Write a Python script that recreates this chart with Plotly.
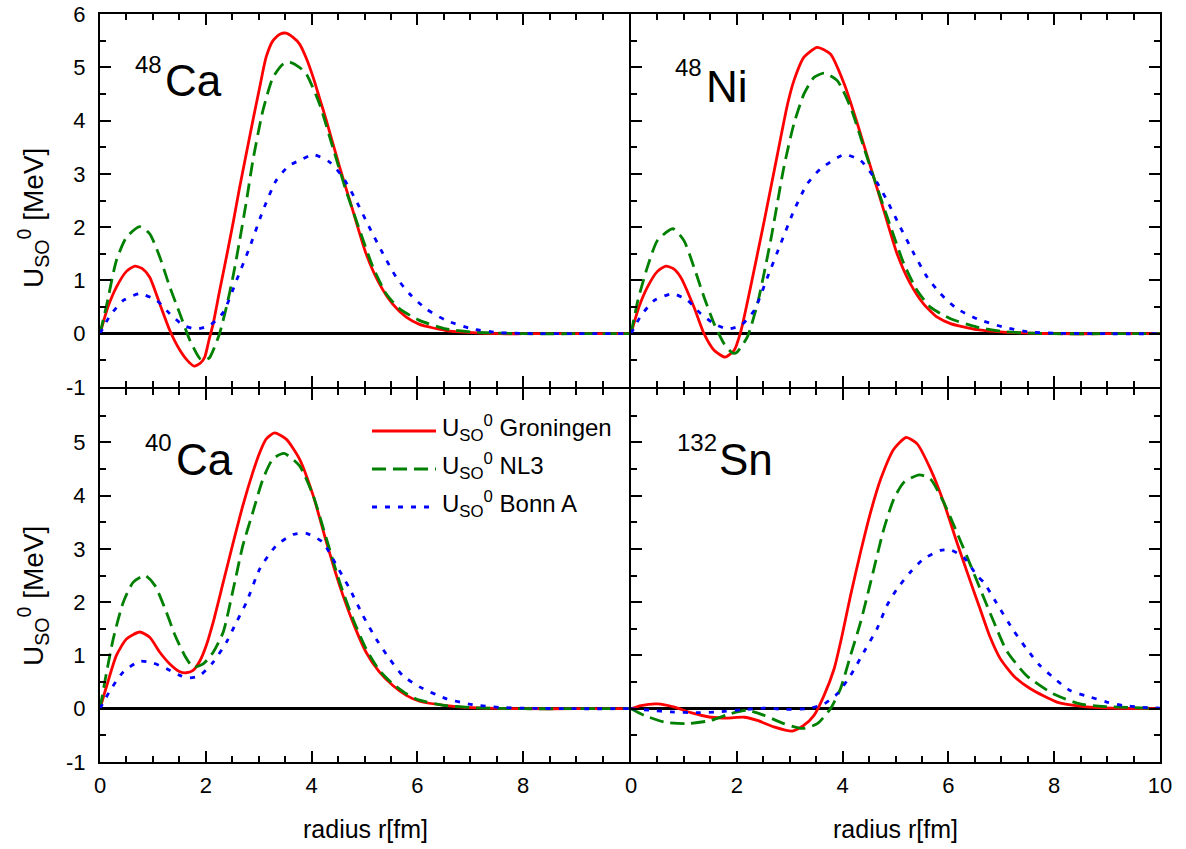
import plotly.graph_objects as go
from plotly.subplots import make_subplots

# ---------------- data ----------------
# 48Ca
ca48_gro_r = [0, 0.15, 0.31, 0.5, 0.66, 0.8, 0.94, 1.13, 1.32, 1.51, 1.65, 1.78, 1.9, 1.98, 2.06, 2.14, 2.26, 2.39, 2.52, 2.64, 2.77, 2.89, 3.02, 3.14, 3.27, 3.4, 3.52, 3.65, 3.77, 3.9, 4.03, 4.15, 4.28, 4.53, 4.78, 5.03, 5.28, 5.53, 5.79, 6.04, 6.54, 7.04, 7.55, 8.0, 9.0, 10.0]
ca48_gro_u = [0, 0.5, 0.875, 1.17, 1.27, 1.22, 1.06, 0.56, 0.06, -0.31, -0.5, -0.61, -0.55, -0.44, -0.12, 0.19, 0.8, 1.44, 2.1, 2.75, 3.4, 4.0, 4.63, 5.19, 5.5, 5.62, 5.64, 5.56, 5.44, 5.17, 4.81, 4.42, 4.0, 3.125, 2.31, 1.5, 0.94, 0.56, 0.31, 0.175, 0.06, 0.02, 0.0, 0, 0, 0]
ca48_nl3_r = [0, 0.13, 0.31, 0.5, 0.75, 0.94, 1.13, 1.32, 1.51, 1.70, 1.89, 1.98, 2.07, 2.14, 2.26, 2.39, 2.52, 2.64, 2.77, 2.89, 3.08, 3.27, 3.46, 3.58, 3.77, 3.9, 4.15, 4.4, 4.65, 4.91, 5.16, 5.41, 5.66, 6.04, 6.54, 7.04, 7.55, 8.0, 9.0, 10.0]
ca48_nl3_u = [0, 0.56, 1.375, 1.81, 2.01, 1.875, 1.44, 0.875, 0.375, -0.125, -0.47, -0.5, -0.45, -0.31, 0, 0.5, 1.1, 1.75, 2.5, 3.25, 4.19, 4.81, 5.06, 5.1, 5.0, 4.875, 4.31, 3.5, 2.69, 1.94, 1.25, 0.75, 0.47, 0.25, 0.09, 0.03, 0.01, 0, 0, 0]
ca48_bonn_r = [0, 0.19, 0.44, 0.75, 1.07, 1.32, 1.57, 1.82, 2.08, 2.33, 2.58, 2.83, 3.08, 3.33, 3.58, 3.77, 4.03, 4.34, 4.59, 4.84, 5.09, 5.35, 5.6, 5.85, 6.16, 6.54, 7.04, 7.55, 8.0, 9.0, 10.0]
ca48_bonn_u = [0, 0.34, 0.625, 0.75, 0.625, 0.375, 0.16, 0.09, 0.16, 0.4, 1.0, 1.625, 2.31, 2.875, 3.16, 3.25, 3.36, 3.22, 2.94, 2.5, 2.0, 1.5, 1.06, 0.75, 0.47, 0.25, 0.09, 0.02, 0.005, 0, 0]

# 48Ni
ni48_gro_r = [0, 0.15, 0.31, 0.5, 0.66, 0.8, 0.94, 1.19, 1.38, 1.57, 1.78, 1.95, 2.08, 2.26, 2.52, 2.77, 2.96, 3.08, 3.27, 3.52, 3.77, 4.03, 4.28, 4.53, 4.78, 5.03, 5.28, 5.53, 5.79, 6.04, 6.54, 7.04, 7.55, 8.0, 9.0, 10.0]
ni48_gro_u = [0, 0.5, 0.875, 1.17, 1.27, 1.22, 1.06, 0.5, 0, -0.31, -0.44, -0.31, 0.06, 0.875, 2.125, 3.375, 4.31, 4.75, 5.19, 5.375, 5.25, 4.69, 3.94, 3.125, 2.31, 1.5, 0.94, 0.56, 0.31, 0.19, 0.075, 0.03, 0.01, 0, 0, 0]
ni48_nl3_r = [0, 0.13, 0.31, 0.5, 0.79, 1.0, 1.19, 1.38, 1.57, 1.76, 1.89, 1.95, 2.01, 2.2, 2.39, 2.64, 2.89, 3.08, 3.27, 3.46, 3.65, 3.9, 4.15, 4.4, 4.65, 4.91, 5.16, 5.41, 5.66, 6.04, 6.54, 7.04, 7.55, 8.0, 9.0, 10.0]
ni48_nl3_u = [0, 0.625, 1.25, 1.75, 1.97, 1.75, 1.25, 0.69, 0.19, -0.19, -0.34, -0.37, -0.34, -0.06, 0.56, 1.75, 3.125, 3.94, 4.5, 4.81, 4.89, 4.75, 4.25, 3.5, 2.75, 2.0, 1.31, 0.81, 0.5, 0.28, 0.125, 0.04, 0.01, 0, 0, 0]
ni48_bonn_r = [0, 0.19, 0.44, 0.79, 1.07, 1.32, 1.57, 1.82, 2.08, 2.33, 2.58, 2.83, 3.08, 3.33, 3.58, 4.03, 4.34, 4.59, 4.84, 5.09, 5.35, 5.6, 5.85, 6.16, 6.54, 7.04, 7.55, 8.0, 9.0, 10.0]
ni48_bonn_u = [0, 0.34, 0.625, 0.75, 0.625, 0.375, 0.19, 0.09, 0.16, 0.44, 1.06, 1.69, 2.31, 2.81, 3.09, 3.36, 3.25, 2.94, 2.5, 2.0, 1.5, 1.06, 0.75, 0.47, 0.28, 0.125, 0.03, 0.01, 0, 0]

# 40Ca
ca40_gro_r = [0, 0.13, 0.31, 0.5, 0.75, 0.94, 1.13, 1.32, 1.5, 1.63, 1.76, 1.89, 2.01, 2.14, 2.33, 2.52, 2.7, 2.89, 3.02, 3.14, 3.3, 3.52, 3.77, 4.03, 4.28, 4.53, 4.78, 5.03, 5.28, 5.53, 5.79, 6.04, 6.54, 7.04, 7.55, 8.0, 9.0, 10.0]
ca40_gro_u = [0, 0.44, 1.0, 1.31, 1.44, 1.34, 1.06, 0.84, 0.7, 0.675, 0.72, 0.9, 1.19, 1.625, 2.375, 3.125, 3.81, 4.44, 4.81, 5.06, 5.175, 5.06, 4.69, 4.0, 3.125, 2.31, 1.625, 1.06, 0.69, 0.44, 0.25, 0.14, 0.06, 0.02, 0.005, 0, 0, 0]
ca40_nl3_r = [0, 0.09, 0.25, 0.44, 0.63, 0.85, 1.04, 1.23, 1.42, 1.6, 1.76, 1.95, 2.14, 2.33, 2.52, 2.7, 2.89, 3.08, 3.27, 3.48, 3.77, 4.03, 4.28, 4.53, 4.78, 5.03, 5.28, 5.53, 5.79, 6.04, 6.54, 7.04, 7.55, 8.0, 9.0, 10.0]
ca40_nl3_u = [0, 0.5, 1.31, 2.0, 2.375, 2.5, 2.31, 1.875, 1.375, 1.0, 0.78, 0.84, 1.06, 1.44, 2.25, 3.06, 3.69, 4.31, 4.69, 4.79, 4.56, 4.0, 3.19, 2.375, 1.69, 1.125, 0.72, 0.47, 0.28, 0.16, 0.06, 0.02, 0.005, 0, 0, 0]
ca40_bonn_r = [0, 0.19, 0.44, 0.75, 1.0, 1.26, 1.51, 1.67, 1.89, 2.14, 2.39, 2.58, 2.77, 3.02, 3.33, 3.65, 3.9, 4.21, 4.47, 4.72, 4.97, 5.22, 5.47, 5.72, 6.04, 6.54, 7.04, 7.55, 8.0, 9.0, 10.0]
ca40_bonn_u = [0, 0.34, 0.69, 0.89, 0.86, 0.75, 0.625, 0.575, 0.625, 0.875, 1.25, 1.625, 2.0, 2.625, 3.06, 3.27, 3.29, 3.125, 2.69, 2.25, 1.75, 1.31, 0.94, 0.625, 0.41, 0.19, 0.075, 0.025, 0.01, 0, 0]

# 132Sn
sn132_gro_r = [0, 0.19, 0.5, 0.82, 1.13, 1.51, 1.82, 2.14, 2.39, 2.7, 3.05, 3.27, 3.46, 3.65, 3.84, 3.99, 4.15, 4.34, 4.53, 4.72, 4.97, 5.2, 5.41, 5.66, 5.91, 6.16, 6.42, 6.6, 6.79, 6.98, 7.23, 7.55, 8.05, 8.49, 9.1, 10.0]
sn132_gro_u = [0, 0.06, 0.09, 0.03, -0.075, -0.16, -0.175, -0.16, -0.22, -0.34, -0.42, -0.31, -0.125, 0.25, 0.75, 1.375, 2.125, 2.94, 3.69, 4.31, 4.875, 5.09, 4.97, 4.5, 3.875, 3.125, 2.375, 1.87, 1.34, 0.94, 0.62, 0.375, 0.125, 0.05, 0.01, 0]
sn132_nl3_r = [0, 0.25, 0.63, 1.07, 1.51, 1.89, 2.2, 2.52, 2.89, 3.25, 3.52, 3.77, 3.96, 4.15, 4.34, 4.53, 4.78, 4.97, 5.16, 5.45, 5.66, 5.91, 6.16, 6.42, 6.6, 6.85, 7.1, 7.48, 7.98, 8.49, 8.99, 9.49, 10.0]
sn132_nl3_u = [0, -0.125, -0.25, -0.28, -0.22, -0.09, -0.03, -0.125, -0.28, -0.37, -0.28, 0, 0.375, 1.0, 1.625, 2.375, 3.375, 3.94, 4.25, 4.39, 4.31, 3.875, 3.31, 2.69, 2.25, 1.65, 1.09, 0.62, 0.28, 0.09, 0.04, 0.02, 0]
sn132_bonn_r = [0, 0.38, 0.75, 1.26, 1.64, 2.08, 2.52, 2.89, 3.33, 3.65, 3.9, 4.15, 4.4, 4.65, 4.84, 5.03, 5.28, 5.53, 5.85, 6.04, 6.29, 6.54, 6.67, 6.88, 7.23, 7.48, 7.73, 8.05, 8.3, 8.68, 8.99, 9.3, 9.62, 10.0]
sn132_bonn_u = [0, -0.03, -0.06, -0.075, -0.06, -0.02, 0.01, -0.01, 0, 0.09, 0.28, 0.625, 1.06, 1.5, 1.94, 2.25, 2.56, 2.81, 2.97, 2.98, 2.84, 2.5, 2.37, 2.03, 1.47, 1.12, 0.81, 0.53, 0.34, 0.22, 0.125, 0.06, 0.03, 0.01]

panels = [
    # (row, col, mass, symbol, series)
    (1, 1, "48", "Ca", [(ca48_gro_r, ca48_gro_u), (ca48_nl3_r, ca48_nl3_u), (ca48_bonn_r, ca48_bonn_u)]),
    (1, 2, "48", "Ni", [(ni48_gro_r, ni48_gro_u), (ni48_nl3_r, ni48_nl3_u), (ni48_bonn_r, ni48_bonn_u)]),
    (2, 1, "40", "Ca", [(ca40_gro_r, ca40_gro_u), (ca40_nl3_r, ca40_nl3_u), (ca40_bonn_r, ca40_bonn_u)]),
    (2, 2, "132", "Sn", [(sn132_gro_r, sn132_gro_u), (sn132_nl3_r, sn132_nl3_u), (sn132_bonn_r, sn132_bonn_u)]),
]
model_names = ["Groningen", "NL3", "Bonn A"]
model_colors = ["#FF0000", "#008000", "#0000FF"]
model_dash = ["solid", "14px,7px", "5px,8px"]

x_ticks = [0, 2, 4, 6, 8, 10]
y_ticks = [-1, 0, 1, 2, 3, 4, 5, 6]

FONT = "Liberation Sans, Arial, Helvetica, sans-serif"

# ---------------- figure ----------------
W, H = 1186, 849
# plot area in window pixels: x 100..1160, y 14..762
ML, MR, MT, MB = 100, W - 1160, 14, H - 762
PW, PH = W - ML - MR, H - MT - MB

def px(x):
    return (x - ML) / PW

def py(y):
    return (H - MB - y) / PH

fig = make_subplots(rows=2, cols=2, horizontal_spacing=2 / PW, vertical_spacing=2 / PH)

for row, col, mass, sym, series in panels:
    for k, (r, u) in enumerate(series):
        fig.add_trace(go.Scatter(
            x=r, y=u, mode="lines", name=model_names[k], showlegend=False,
            hoverinfo="skip",
            line=dict(color=model_colors[k], width=2.8, dash=model_dash[k],
                      shape="spline", smoothing=0.6),
        ), row=row, col=col)

axis_common = dict(showline=True, linecolor="black", linewidth=2,
                   ticks="inside", ticklen=11, tickwidth=2, tickcolor="black",
                   showgrid=False, automargin=False, ticklabeloverflow="allow",
                   tickfont=dict(family=FONT, size=22, color="black"),
                   minor=dict(ticks="inside", ticklen=6, tickwidth=2,
                              tickcolor="black", dtick=0.5, tick0=0, showgrid=False))

for row in (1, 2):
    for col in (1, 2):
        xa = dict(axis_common, range=[0, 10], mirror="ticks", zeroline=False,
                  tickmode="array", tickvals=x_ticks, ticklabelstandoff=3)
        if row == 1:
            xa["showticklabels"] = False
        else:
            xa["ticktext"] = [str(v) for v in x_ticks[:-1]] + (["10"] if col == 2 else [""])
        fig.update_xaxes(row=row, col=col, **xa)
        ya = dict(axis_common, range=[-1, 6], zeroline=True, zerolinecolor="black",
                  zerolinewidth=2.6, tickmode="array", tickvals=y_ticks,
                  ticklabelstandoff=8)
        if col == 1:
            ya["mirror"] = True
            ya["ticktext"] = [str(v) for v in y_ticks] if row == 1 else [str(v) for v in y_ticks[:-1]] + [""]
        else:
            ya["mirror"] = "ticks"
            ya["showticklabels"] = False
        fig.update_yaxes(row=row, col=col, **ya)

annotations = []
# nucleus labels (mass number + symbol), window pixel positions
label_pos = {
    (1, 1): (133, 64, 163, 80),
    (1, 2): (673, 68, 704, 86),
    (2, 1): (143, 443, 174, 460),
    (2, 2): (675, 443, 717, 459),
}
for row, col, mass, sym, series in panels:
    mx, my, sx, sy = label_pos[(row, col)]
    annotations.append(dict(xref="paper", yref="paper", x=px(mx), y=py(my), text=mass,
                            showarrow=False, xanchor="left", yanchor="middle",
                            font=dict(family=FONT, size=24, color="black")))
    annotations.append(dict(xref="paper", yref="paper", x=px(sx), y=py(sy), text=sym,
                            showarrow=False, xanchor="left", yanchor="middle",
                            font=dict(family=FONT, size=44, color="black")))

# axis titles
for cx in (365, 895):
    annotations.append(dict(xref="paper", yref="paper", x=px(cx), y=py(829),
                            text="radius r[fm]", showarrow=False,
                            xanchor="center", yanchor="middle",
                            font=dict(family=FONT, size=25, color="black")))
for cy in (218, 596):
    annotations.append(dict(xref="paper", yref="paper", x=px(33), y=py(cy),
                            text="U<sub>SO</sub><sup>0</sup> [MeV]", textangle=-90,
                            showarrow=False, xanchor="center", yanchor="middle",
                            font=dict(family=FONT, size=28, color="black")))

# legend (drawn inside the lower-left panel)
shapes = []
leg_rows = [431, 469, 507]
for k, ly in enumerate(leg_rows):
    shapes.append(dict(type="line", xref="paper", yref="paper",
                       x0=px(372), x1=px(436), y0=py(ly), y1=py(ly),
                       line=dict(color=model_colors[k], width=2.8, dash=model_dash[k])))
    annotations.append(dict(xref="paper", yref="paper", x=px(440), y=py(ly - 3),
                            text="U<sub>SO</sub><sup>0</sup> " + model_names[k],
                            showarrow=False, xanchor="left", yanchor="middle",
                            font=dict(family=FONT, size=24, color="black")))

fig.update_layout(
    width=W, height=H,
    margin=dict(l=ML, r=MR, t=MT, b=MB, autoexpand=False),
    paper_bgcolor="white", plot_bgcolor="white",
    showlegend=False,
    annotations=annotations,
    shapes=shapes,
)

# remove the default 8 px page margin so the figure fills the window exactly
fig.write_html("out.html", config={"displayModeBar": False},
               post_script="document.body.style.margin='0px';")
